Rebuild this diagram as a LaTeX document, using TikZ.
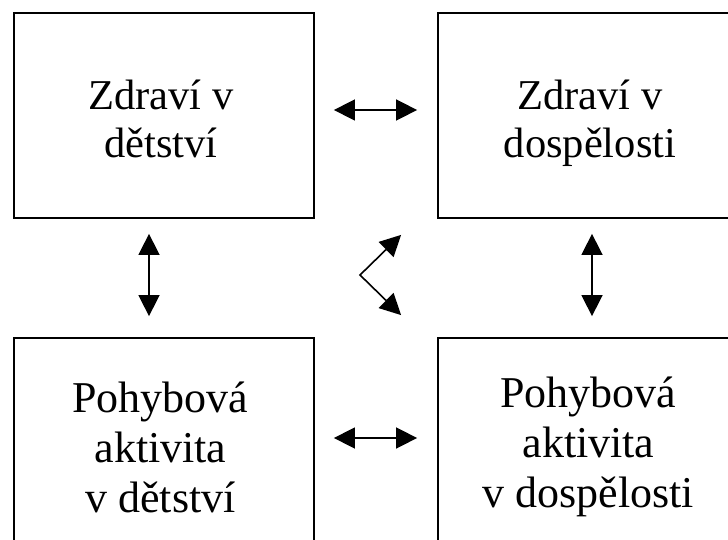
\documentclass[tikz,border=0pt]{standalone}
\usepackage{fontspec}
\setmainfont{Liberation Serif}
\usetikzlibrary{arrows.meta}
\begin{document}
\begin{tikzpicture}[x=1pt,y=-1pt,
  box/.style={draw, line width=1.8pt, minimum width=300pt, minimum height=205pt, inner sep=0pt},
  toptext/.style={align=center, inner sep=0pt, font=\fontsize{42.5}{48}\selectfont},
  bottext/.style={align=center, inner sep=0pt, font=\fontsize{44}{50}\selectfont},
  link/.style={line width=1.6pt, {Triangle[length=21pt,width=21pt]}-{Triangle[length=21pt,width=21pt]}}]
\useasboundingbox (0,0) rectangle (728,540);
\clip (0,0) rectangle (728,540);

% the four boxes (the right and lower ones run past the page edge)
\node[box] (tl) at (164,115.5) {};
\node[box] (tr) at (588,115.5) {};
\node[box] (bl) at (164,440.5) {};
\node[box] (br) at (588,440.5) {};

% box labels
\node[toptext] (tlt) at (161,124.4) {\strut Zdraví v\strut\\\strut dětství\strut};
\node[toptext] (trt) at (590,124.4) {\strut Zdraví v\strut\\\strut dospělosti\strut};
\node[bottext] (blt) at (160.5,452) {\strut Pohybová\strut\\\strut aktivita\strut\\\strut v dětství\strut};
\node[bottext] (brt) at (588.5,447) {\strut Pohybová\strut\\\strut aktivita\strut\\\strut v dospělosti\strut};

% horizontal links
\draw[link] ([xshift=19pt,yshift=5.5pt]tl.east) -- ([xshift=-20pt,yshift=5.5pt]tr.west);
\draw[link] ([xshift=19pt,yshift=2.5pt]bl.east) -- ([xshift=-20pt,yshift=2.5pt]br.west);

% vertical links
\draw[link] ([xshift=-15pt,yshift=-15pt]tl.south) -- ([xshift=-15pt,yshift=21pt]bl.north);
\draw[link] ([xshift=4pt,yshift=-15pt]tr.south) -- ([xshift=4pt,yshift=21pt]br.north);

% diagonal bent link
\coordinate (apex) at (360,275);
\draw[link, line join=miter] ([xshift=-36pt,yshift=-16pt]tr.south west) -- (apex) -- ([xshift=-36pt,yshift=22pt]br.north west);
\end{tikzpicture}
\end{document}
